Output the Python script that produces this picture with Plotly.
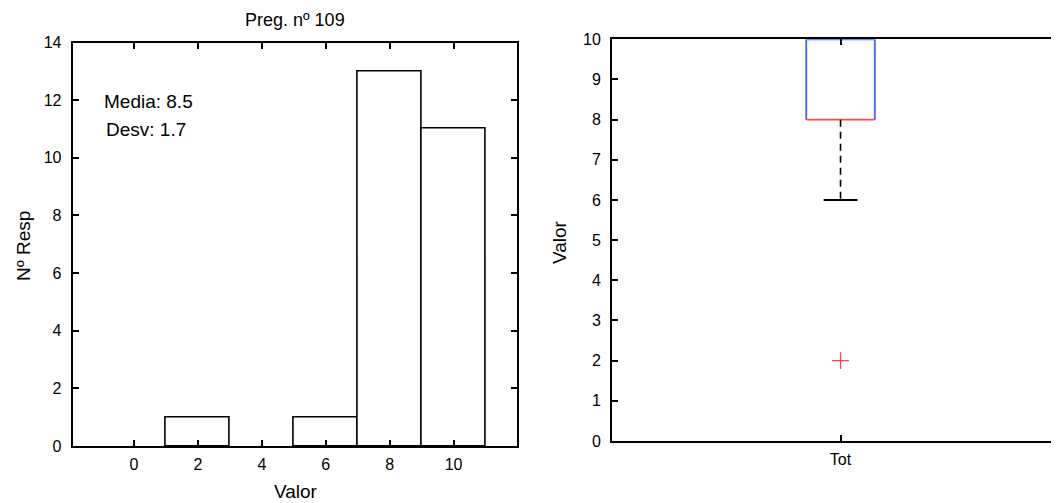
import plotly.graph_objects as go

# ---- data ----
bin_centers = [0, 2, 4, 6, 8, 10]
counts = [0, 1, 0, 1, 13, 11]
hist_ticks = [0, 2, 4, 6, 8, 10]
count_ticks = [0, 2, 4, 6, 8, 10, 12, 14]
title_text = "Preg. nº 109"
mean_label = "Media: 8.5"
std_label = "Desv: 1.7"

box_category = ["Tot"]
box_q1 = [8]
box_median = [8]
box_q3 = [10]
box_lower_whisker = [6]
box_upper_whisker = [10]
box_outliers = [2]
box_ticks = [0, 1, 2, 3, 4, 5, 6, 7, 8, 9, 10]

# page body has an 8px margin; size the figure so it fits the window
OFF = 8
W, H = 1059 - OFF, 503 - OFF
FONT = "Liberation Sans"
BLUE = "rgb(60,100,255)"
RED = "rgb(255,70,70)"


def px(x):
    return (x - OFF) / W


def py(y):
    return 1 - (y - OFF) / H


fig = go.Figure()

bx = [b for b, n in zip(bin_centers, counts) if n > 0]
by = [n for n in counts if n > 0]
fig.add_trace(go.Bar(
    x=bx, y=by, width=2,
    marker=dict(color="white", line=dict(color="black", width=1.6)),
    xaxis="x", yaxis="y", showlegend=False, hoverinfo="skip"))

c = 1.0
hw = 0.075
cw = 0.037
q1, med, q3 = box_q1[0], box_median[0], box_q3[0]
lw, uw = box_lower_whisker[0], box_upper_whisker[0]

fig.add_trace(go.Scatter(
    x=[c - hw, c - hw, c + hw, c + hw], y=[q1, q3, q3, q1],
    mode="lines", line=dict(color=BLUE, width=1.8),
    xaxis="x2", yaxis="y2", showlegend=False, hoverinfo="skip", cliponaxis=False))
fig.add_trace(go.Scatter(
    x=[c - hw, c + hw], y=[med, med],
    mode="lines", line=dict(color=RED, width=1.8),
    xaxis="x2", yaxis="y2", showlegend=False, hoverinfo="skip"))
fig.add_trace(go.Scatter(
    x=[c, c], y=[q1, lw],
    mode="lines", line=dict(color="black", width=1.6, dash="7px,5px"),
    xaxis="x2", yaxis="y2", showlegend=False, hoverinfo="skip"))
fig.add_trace(go.Scatter(
    x=[c, c], y=[q3, uw],
    mode="lines", line=dict(color="black", width=1.6, dash="7px,5px"),
    xaxis="x2", yaxis="y2", showlegend=False, hoverinfo="skip"))
fig.add_trace(go.Scatter(
    x=[c - cw, c + cw], y=[lw, lw],
    mode="lines", line=dict(color="black", width=1.8),
    xaxis="x2", yaxis="y2", showlegend=False, hoverinfo="skip"))
fig.add_trace(go.Scatter(
    x=[c] * len(box_outliers), y=box_outliers,
    mode="markers", marker=dict(symbol="cross-thin", size=12,
                                line=dict(color=RED, width=1.3)),
    xaxis="x2", yaxis="y2", showlegend=False, hoverinfo="skip"))

axis_common = dict(showgrid=False, zeroline=False, showline=True,
                   linecolor="black", linewidth=2, ticks="inside",
                   ticklen=6, tickwidth=1.5, tickcolor="black",
                   automargin=False,
                   tickfont=dict(family=FONT, size=16, color="black"))

fig.update_layout(
    template="none",
    width=W, height=H,
    margin=dict(l=0, r=0, t=0, b=0, pad=0, autoexpand=False),
    paper_bgcolor="white", plot_bgcolor="white",
    font=dict(family=FONT, size=16, color="black"),
    bargap=0,
    xaxis=dict(domain=[px(72.7), px(516.5)], anchor="y",
               range=[-1.92, 11.97], tickvals=hist_ticks, mirror="allticks",
               ticklabelstandoff=3, **axis_common),
    yaxis=dict(domain=[py(446), py(42.5)], anchor="x",
               range=[0, 14], tickvals=count_ticks, mirror="allticks",
               ticklabelstandoff=6, **axis_common),
    xaxis2=dict(domain=[px(612), 1.0], anchor="y2",
                range=[0.5, 1.478], tickvals=[c], ticktext=box_category,
                mirror="allticks", ticklabelstandoff=3, **axis_common),
    yaxis2=dict(domain=[py(441), py(39.3)], anchor="x2",
                range=[0, 10], tickvals=box_ticks, mirror=False,
                ticklabelstandoff=6, **axis_common),
    annotations=[
        dict(text=title_text, x=px(295), y=1.0, xref="paper", yref="paper",
             showarrow=False, xanchor="center", yanchor="top",
             font=dict(family=FONT, size=18)),
        dict(text=mean_label, x=px(102), y=py(101), xref="paper", yref="paper",
             showarrow=False, xanchor="left", yanchor="middle",
             font=dict(family=FONT, size=19)),
        dict(text=std_label, x=px(104), y=py(129), xref="paper", yref="paper",
             showarrow=False, xanchor="left", yanchor="middle",
             font=dict(family=FONT, size=19)),
        dict(text="Valor", x=px(296), y=py(491), xref="paper", yref="paper",
             showarrow=False, xanchor="center", yanchor="middle",
             font=dict(family=FONT, size=19)),
        dict(text="Nº Resp", x=px(23), y=py(246), xref="paper", yref="paper",
             showarrow=False, xanchor="center", yanchor="middle", textangle=-90,
             font=dict(family=FONT, size=19)),
        dict(text="Valor", x=px(560), y=py(242), xref="paper", yref="paper",
             showarrow=False, xanchor="center", yanchor="middle", textangle=-90,
             font=dict(family=FONT, size=19)),
    ],
)

fig.write_html("out.html")
